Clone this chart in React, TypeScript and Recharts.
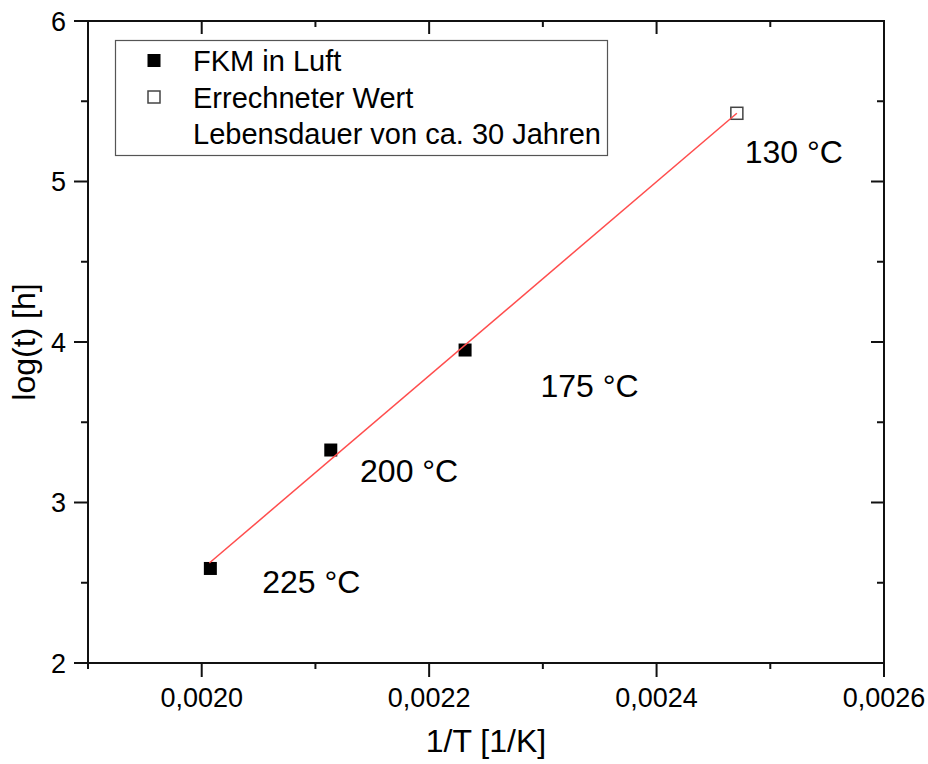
import React from 'react';
import { ScatterChart, Scatter, XAxis, YAxis } from 'recharts';

const measuredPoints = [
  { x: 0.0020076, y: 2.589 },
  { x: 0.0021135, y: 3.327 },
  { x: 0.0022316, y: 3.95 },
];
const calculatedPoints = [{ x: 0.0024706, y: 5.425 }];
const fitLine = [
  { x: 0.0020067, y: 2.623 },
  { x: 0.0024706, y: 5.425 },
];
const tempLabels = [
  { x: 0.0020963, y: 2.508, text: '225 °C' },
  { x: 0.0021824, y: 3.202, text: '200 °C' },
  { x: 0.002341, y: 3.732, text: '175 °C' },
  { x: 0.0025207, y: 5.186, text: '130 °C' },
];
const xTicks = [0.0019, 0.002, 0.0021, 0.0022, 0.0023, 0.0024, 0.0025, 0.0026];
const yTicks = [2, 2.5, 3, 3.5, 4, 4.5, 5, 5.5, 6];
const legendItems = [
  { label: 'FKM in Luft', marker: 'filled' },
  { label: 'Errechneter Wert', marker: 'open' },
  { label: 'Lebensdauer von ca. 30 Jahren', marker: 'none' },
];

const FONT = '"Liberation Sans", Arial, sans-serif';
const isMajorX = (v: number) => Math.round(v * 10000) % 2 === 0;
const isMajorY = (v: number) => Math.abs(v - Math.round(v)) < 1e-9;
const fmtX = (v: number) => v.toFixed(4).replace('.', ',');

const BottomTick = (props: any) => {
  const { x, y, payload } = props;
  const major = isMajorX(payload.value);
  return (
    <g>
      <line x1={x} y1={y} x2={x} y2={y + (major ? 14 : 6)} stroke="#111" strokeWidth={2} />
      {major && (
        <text x={x} y={y + 44} textAnchor="middle" fontSize={27} fontFamily={FONT} fill="#000">
          {fmtX(payload.value)}
        </text>
      )}
    </g>
  );
};
const TopTick = (props: any) => {
  const { x, y, payload } = props;
  const major = isMajorX(payload.value);
  return <line x1={x} y1={y} x2={x} y2={y + (major ? 13 : 6)} stroke="#111" strokeWidth={2} />;
};
const LeftTick = (props: any) => {
  const { x, y, payload } = props;
  const major = isMajorY(payload.value);
  return (
    <g>
      <line x1={x} y1={y} x2={x - (major ? 14 : 7)} y2={y} stroke="#111" strokeWidth={2} />
      {major && (
        <text x={x - 22} y={y + 9.5} textAnchor="end" fontSize={27} fontFamily={FONT} fill="#000">
          {String(payload.value)}
        </text>
      )}
    </g>
  );
};
const RightTick = (props: any) => {
  const { x, y, payload } = props;
  const major = isMajorY(payload.value);
  return <line x1={x} y1={y} x2={x - (major ? 13 : 7)} y2={y} stroke="#111" strokeWidth={2} />;
};

const FilledSquare = (props: any) => {
  const { cx, cy } = props;
  return <rect x={cx - 6.5} y={cy - 6.5} width={13} height={13} fill="#000" />;
};
const OpenSquare = (props: any) => {
  const { cx, cy } = props;
  return <rect x={cx - 6} y={cy - 6} width={12} height={12} fill="none" stroke="#444" strokeWidth={1.5} />;
};
const TempText = (props: any) => {
  const { cx, cy, payload } = props;
  return (
    <text x={cx} y={cy + 11.5} textAnchor="middle" fontSize={32} fontFamily={FONT} fill="#000">
      {payload.text}
    </text>
  );
};
const Nothing = () => <g />;

const axisLine = { stroke: '#111', strokeWidth: 2, strokeLinecap: 'square' as const };

export default function App() {
  return (
    <div style={{ position: 'absolute', left: 0, top: 0, width: 928, height: 764, background: '#fff' }}>
      <ScatterChart width={928} height={764} margin={{ top: 20, right: 43, bottom: 0, left: 0 }}>
        <XAxis
          xAxisId="b"
          dataKey="x"
          type="number"
          domain={[0.0019, 0.0026]}
          ticks={xTicks}
          interval={0}
          height={101}
          tickSize={0}
          tickMargin={0}
          tickLine={false}
          axisLine={axisLine}
          tick={<BottomTick />}
          label={{ value: '1/T [1/K]', position: 'insideBottom', offset: 12, fontSize: 32, fontFamily: FONT, fill: '#000' }}
        />
        <XAxis
          xAxisId="t"
          orientation="top"
          dataKey="x"
          type="number"
          domain={[0.0019, 0.0026]}
          ticks={xTicks}
          interval={0}
          height={1}
          tickSize={0}
          tickMargin={0}
          tickLine={false}
          axisLine={axisLine}
          tick={<TopTick />}
        />
        <YAxis
          yAxisId="l"
          dataKey="y"
          type="number"
          domain={[2, 6]}
          ticks={yTicks}
          interval={0}
          width={88}
          tickSize={0}
          tickMargin={0}
          tickLine={false}
          axisLine={axisLine}
          tick={<LeftTick />}
          label={{ value: 'log(t) [h]', angle: -90, position: 'insideLeft', offset: 24, fontSize: 32, fontFamily: FONT, fill: '#000', style: { textAnchor: 'middle' } }}
        />
        <YAxis
          yAxisId="r"
          orientation="right"
          dataKey="y"
          type="number"
          domain={[2, 6]}
          ticks={yTicks}
          interval={0}
          width={1}
          tickSize={0}
          tickMargin={0}
          tickLine={false}
          axisLine={axisLine}
          tick={<RightTick />}
        />
        <Scatter xAxisId="t" yAxisId="r" data={fitLine} shape={<Nothing />} legendType="none" isAnimationActive={false} />
        <Scatter xAxisId="b" yAxisId="l" name="FKM in Luft" data={measuredPoints} shape={<FilledSquare />} isAnimationActive={false} />
        <Scatter xAxisId="b" yAxisId="l" name="Errechneter Wert" data={calculatedPoints} shape={<OpenSquare />} isAnimationActive={false} />
        <Scatter
          xAxisId="b"
          yAxisId="l"
          data={fitLine}
          shape={<Nothing />}
          line={{ stroke: '#ff4d4d', strokeWidth: 1.5 }}
          legendType="none"
          isAnimationActive={false}
        />
        <Scatter xAxisId="b" yAxisId="l" data={tempLabels} shape={<TempText />} legendType="none" isAnimationActive={false} />
      </ScatterChart>
      <svg
        width={928}
        height={764}
        style={{ position: 'absolute', left: 0, top: 0, pointerEvents: 'none' }}
      >
        <rect x={115.5} y={40.5} width={492} height={115} fill="#fff" stroke="#555" strokeWidth={1.2} />
        {legendItems.map((item, i) => {
          const cy = 60.5 + i * 36.5;
          return (
            <g key={item.label}>
              {item.marker === 'filled' && <rect x={147.5} y={cy - 6.5} width={13} height={13} fill="#000" />}
              {item.marker === 'open' && (
                <rect x={148} y={cy - 6} width={12} height={12} fill="none" stroke="#444" strokeWidth={1.5} />
              )}
              <text x={193} y={cy + 10.5} fontSize={29} fontFamily={FONT} fill="#000">
                {item.label}
              </text>
            </g>
          );
        })}
      </svg>
    </div>
  );
}
